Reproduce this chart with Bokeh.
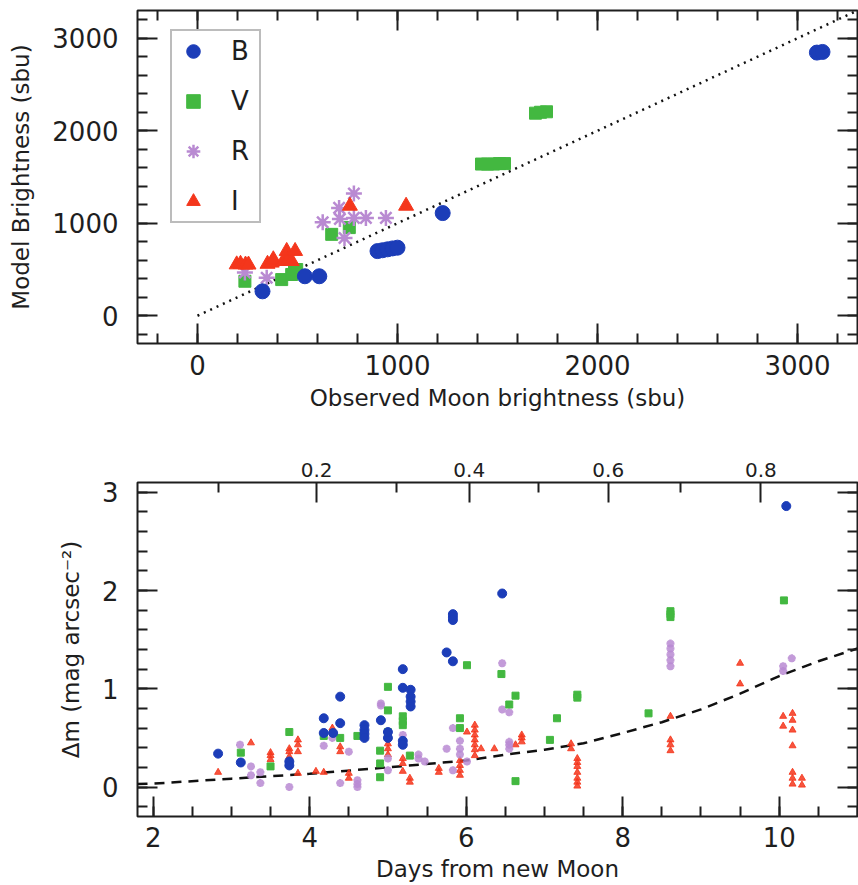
import numpy as np
from bokeh.plotting import figure
from bokeh.models import (LinearAxis, SingleIntervalTicker, FixedTicker, Legend,
                          LegendItem, Range1d, CustomJSTickFormatter)
from bokeh.layouts import column
from bokeh.embed import file_html
from bokeh.resources import INLINE

# ---------------- data: top panel (model vs observed, sbu) ----------------
B_obs = [325, 537, 609, 900, 925, 950, 975, 1000, 1226, 3097, 3125]
B_mod = [264, 427, 427, 699, 708, 718, 728, 736, 1110, 2845, 2852]
V_obs = [237, 421, 471, 485, 496, 671, 759, 1420, 1450, 1480, 1510, 1535, 1690, 1715, 1745]
V_mod = [373, 391, 446, 475, 500, 880, 953, 1640, 1640, 1640, 1645, 1645, 2190, 2200, 2205]
R_obs = [237, 346, 626, 708, 712, 735, 782, 782, 842, 942]
R_mod = [467, 410, 1011, 1166, 1047, 841, 1321, 1058, 1058, 1058]
I_obs = [196, 215, 240, 255, 350, 371, 379, 429, 446, 452, 471, 488, 762, 1043]
I_mod = [554, 560, 552, 552, 560, 573, 609, 590, 699, 600, 590, 699, 1188, 1188]
line_11 = [0, 3300]

# ---------------- data: bottom panel (delta m vs days) ----------------
B_days = [2.83, 3.12, 3.74, 3.74, 4.18, 4.18, 4.30, 4.39, 4.39, 4.70, 4.70, 4.70, 4.70,
          4.91, 5.00, 5.00, 5.19, 5.19, 5.19, 5.19, 5.29, 5.29, 5.29, 5.29, 5.75, 5.83,
          5.83, 5.83, 5.83, 6.46, 10.09]
B_dm = [0.34, 0.25, 0.26, 0.22, 0.70, 0.55, 0.55, 0.92, 0.65, 0.63, 0.58, 0.54, 0.50,
        0.68, 0.50, 0.56, 1.20, 1.01, 0.47, 0.43, 0.99, 0.92, 0.87, 0.82, 1.37, 1.76,
        1.73, 1.70, 1.28, 1.97, 2.86]
V_days = [3.12, 3.50, 3.74, 3.74, 4.18, 4.39, 4.61, 4.90, 4.90, 4.90, 5.00, 5.00, 5.00,
          5.19, 5.19, 5.19, 5.28, 5.92, 5.92, 6.01, 6.45, 6.55, 6.63, 6.63, 7.07, 7.16,
          7.42, 7.42, 8.33, 8.61, 8.61, 8.61, 10.06]
V_dm = [0.35, 0.21, 0.56, 0.24, 0.52, 0.50, 0.52, 0.24, 0.10, 0.37, 1.02, 0.78, 0.56,
        0.72, 0.67, 0.63, 0.32, 0.70, 0.60, 1.24, 1.15, 0.84, 0.93, 0.06, 0.48, 0.70,
        0.94, 0.91, 0.75, 1.79, 1.76, 1.73, 1.90]
R_days = [3.11, 3.25, 3.25, 3.37, 3.37, 3.74, 4.18, 4.29, 4.39, 4.50, 4.61, 4.61, 4.61,
          4.91, 4.91, 5.00, 5.00, 5.19, 5.39, 5.39, 5.47, 5.75, 5.83, 5.83, 5.92, 5.92,
          5.92, 6.01, 6.46, 6.46, 6.55, 6.55, 6.55, 6.55, 8.61, 8.61, 8.61, 8.61, 8.61,
          10.05, 10.05, 10.16]
R_dm = [0.43, 0.21, 0.12, 0.15, 0.04, 0.00, 0.42, 0.50, 0.04, 0.36, 0.07, 0.03, 0.00,
        0.85, 0.83, 0.17, 0.29, 0.53, 0.33, 0.29, 0.26, 0.39, 0.60, 0.17, 0.47, 0.39,
        0.33, 0.26, 1.26, 0.79, 0.76, 0.46, 0.43, 0.39, 1.46, 1.41, 1.35, 1.29, 1.23,
        1.23, 1.18, 1.31]
I_days = [2.83, 3.25, 3.50, 3.50, 3.50, 3.74, 3.74, 3.74, 3.85, 3.85, 3.85, 3.85, 4.08,
          4.18, 4.29, 4.39, 4.39, 4.50, 4.50, 5.00, 5.00, 5.00, 5.19, 5.19, 5.19, 5.28,
          5.28, 5.65, 5.65, 5.92, 5.92, 5.92, 5.92, 6.01, 6.11, 6.11, 6.11, 6.11, 6.11,
          6.11, 6.11, 6.19, 6.36, 6.63, 6.71, 6.71, 6.71, 7.34, 7.34, 7.42, 7.42, 7.42,
          7.42, 7.42, 7.42, 7.42, 8.61, 8.61, 8.61, 8.61, 9.50, 9.50, 10.05, 10.05, 10.17,
          10.17, 10.17, 10.17, 10.17, 10.17, 10.17, 10.29, 10.29]
I_dm = [0.15, 0.45, 0.35, 0.32, 0.28, 0.39, 0.36, 0.31, 0.48, 0.43, 0.36, 0.14, 0.16,
        0.15, 0.60, 0.41, 0.36, 0.14, 0.09, 0.44, 0.39, 0.33, 0.29, 0.24, 0.16, 0.09,
        0.05, 0.19, 0.15, 0.27, 0.22, 0.17, 0.12, 0.56, 0.63, 0.58, 0.53, 0.48, 0.43,
        0.38, 0.32, 0.39, 0.39, 0.43, 0.53, 0.50, 0.46, 0.44, 0.39, 0.29, 0.25, 0.21,
        0.15, 0.09, 0.05, 0.01, 0.72, 0.48, 0.43, 0.37, 1.26, 1.05, 0.72, 0.62, 0.75,
        0.68, 0.58, 0.42, 0.15, 0.09, 0.03, 0.09, 0.02]
model_days = [1.8, 2.0, 3.0, 4.0, 5.0, 6.0, 6.5, 7.0, 7.5, 8.0, 8.5, 9.0, 9.5, 10.0, 10.5, 11.0]
model_dm = [0.03, 0.035, 0.085, 0.135, 0.20, 0.27, 0.33, 0.38, 0.445, 0.55, 0.66, 0.79,
            0.95, 1.13, 1.28, 1.41]

# illuminated-fraction labels of the upper axis of the lower panel
frac_major = [0.2, 0.4, 0.6, 0.8]
frac_minor = [0.1, 0.3, 0.5, 0.7, 0.9]
DAYS_PER_RAD = 4.41


def frac_to_days(f):
    return round(float(DAYS_PER_RAD * np.arccos(1 - 2 * f)), 4)


FONT = "DejaVu Sans"
INK = "#1e1e1e"
C_B, C_V, C_R, C_I = "#1c3db8", "#43b840", "#b98ad2", "#f4361c"


def style_axis(ax, label_size="26px", show_labels=True, standoff=10):
    ax.axis_line_color = None
    ax.major_tick_in, ax.major_tick_out = 20, 0
    ax.minor_tick_in, ax.minor_tick_out = 10, 0
    ax.major_tick_line_width = 2
    ax.minor_tick_line_width = 2
    ax.major_tick_line_color = INK
    ax.minor_tick_line_color = INK
    ax.major_label_text_font = FONT
    ax.major_label_text_color = INK
    ax.axis_label_text_font = FONT
    ax.axis_label_text_color = INK
    ax.axis_label_text_font_style = "normal"
    ax.axis_label_text_font_size = "23px"
    if show_labels:
        ax.major_label_text_font_size = label_size
        ax.major_label_standoff = standoff
    else:
        ax.formatter = CustomJSTickFormatter(code="return ''")
        ax.major_label_text_font_size = "1px"
        ax.major_label_standoff = 0


def base_fig(xr, yr, **kw):
    p = figure(x_range=xr, y_range=yr, output_backend="svg", toolbar_location=None,
               frame_width=720, min_border_left=137, min_border_right=1, **kw)
    p.grid.visible = False
    p.outline_line_color = INK
    p.outline_line_width = 2
    p.background_fill_color = "white"
    p.border_fill_color = "white"
    return p


# ---------------- top panel ----------------
p1 = base_fig(Range1d(-300, 3300), Range1d(-300, 3300), frame_height=333,
              min_border_top=10, min_border_bottom=95,
              x_axis_label="Observed Moon brightness (sbu)",
              y_axis_label="Model Brightness (sbu)")
t1x = SingleIntervalTicker(interval=1000, num_minor_ticks=5)
t1y = SingleIntervalTicker(interval=1000, num_minor_ticks=5)
p1.xaxis.ticker = t1x
p1.yaxis.ticker = t1y
style_axis(p1.xaxis[0], standoff=11)
style_axis(p1.yaxis[0], standoff=19)
p1.xaxis.axis_label_standoff = 7
p1.yaxis.axis_label_standoff = 15
ax_r = LinearAxis(ticker=t1y)
style_axis(ax_r, show_labels=False)
p1.add_layout(ax_r, "right")
ax_t = LinearAxis(ticker=t1x)
style_axis(ax_t, show_labels=False)
p1.add_layout(ax_t, "above")

p1.line(line_11, line_11, line_color="#111111", line_width=2.5, line_dash="2 5")
rV = p1.scatter(V_obs, V_mod, marker="square", size=12, fill_color=C_V, line_color=C_V)
rR = p1.scatter(R_obs, R_mod, marker="asterisk", size=16, line_color=C_R, line_width=2.5)
rI = p1.scatter(I_obs, I_mod, marker="triangle", size=15, fill_color=C_I, line_color=C_I)
rB = p1.scatter(B_obs, B_mod, marker="circle", size=15, fill_color=C_B, line_color=C_B)

legend = Legend(items=[LegendItem(label="B", renderers=[rB]),
                       LegendItem(label="V", renderers=[rV]),
                       LegendItem(label="R", renderers=[rR]),
                       LegendItem(label="I", renderers=[rI])],
                location=(33, 120), margin=0, padding=3, spacing=16,
                glyph_width=36, glyph_height=34, label_standoff=20, label_width=25,
                label_text_font=FONT, label_text_font_size="26px",
                label_text_color=INK, border_line_color="#7a7a7a",
                border_line_width=2, background_fill_color="white")
p1.add_layout(legend)

# ---------------- bottom panel ----------------
p2 = base_fig(Range1d(1.8, 11.0), Range1d(-0.3, 3.1), frame_height=334,
              min_border_top=44, min_border_bottom=69,
              x_axis_label="Days from new Moon",
              y_axis_label="Δm (mag arcsec⁻²)")
t2x = SingleIntervalTicker(interval=2, num_minor_ticks=4)
t2y = SingleIntervalTicker(interval=1, num_minor_ticks=5)
p2.xaxis.ticker = t2x
p2.yaxis.ticker = t2y
style_axis(p2.xaxis[0], standoff=10)
style_axis(p2.yaxis[0], standoff=19)
p2.xaxis.axis_label_standoff = 6
p2.yaxis.axis_label_standoff = 15
ax_r2 = LinearAxis(ticker=t2y)
style_axis(ax_r2, show_labels=False)
p2.add_layout(ax_r2, "right")
top_ticks = [frac_to_days(f) for f in frac_major]
top_minor = [frac_to_days(f) for f in frac_minor]
ax_t2 = LinearAxis(ticker=FixedTicker(ticks=top_ticks, minor_ticks=top_minor))
style_axis(ax_t2, label_size="20px", standoff=6)
ax_t2.major_label_overrides = {d: f"{f:.1f}" for d, f in zip(top_ticks, frac_major)}
p2.add_layout(ax_t2, "above")

p2.line(model_days, model_dm, line_color="#111111", line_width=2.5, line_dash="10 7")
p2.scatter(I_days, I_dm, marker="triangle", size=7, fill_color=C_I, line_color=C_I,
           alpha=0.85)
p2.scatter(R_days, R_dm, marker="asterisk", size=8, line_color=C_R, line_width=2.5,
           alpha=0.85)
p2.scatter(V_days, V_dm, marker="square", size=7, fill_color=C_V, line_color=C_V)
p2.scatter(B_days, B_dm, marker="circle", size=9, fill_color=C_B, line_color=C_B)

layout = column(p1, p2, spacing=0)
open("out.html", "w").write(file_html(layout, INLINE))
